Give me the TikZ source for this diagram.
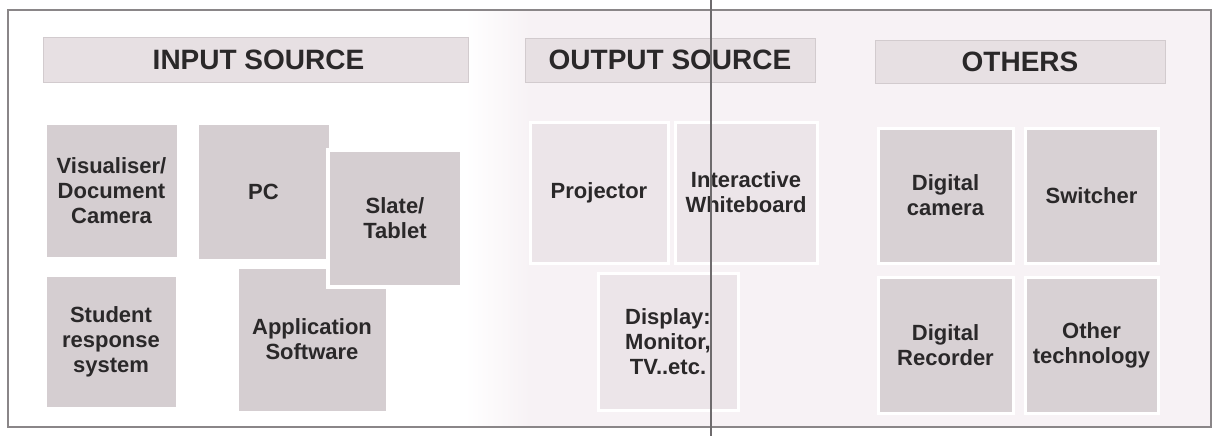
\documentclass[tikz,border=0pt]{standalone}
\usepackage{fontspec}
\setmainfont{Liberation Sans}
\definecolor{frameC}{HTML}{8A8688}
\definecolor{headC}{HTML}{E7E0E3}
\definecolor{headB}{HTML}{D2CBCE}
\definecolor{inC}{HTML}{D5CED1}
\definecolor{outC}{HTML}{ECE5E9}
\definecolor{othC}{HTML}{D8D1D4}
\definecolor{bgC}{HTML}{F7F2F5}
\definecolor{txtC}{HTML}{2A2829}
\tikzset{
  header/.style={fill=headC, draw=headB, line width=0.6pt, inner sep=0pt, outer sep=0pt,
    font=\fontsize{28}{30}\selectfont\bfseries, text=txtC},
  tile/.style={draw=white, line width=3pt, inner sep=0pt, outer sep=0pt, align=center,
    font=\fontsize{22}{25}\selectfont\bfseries, text=txtC},
  intile/.style={tile, fill=inC},
  outtile/.style={tile, fill=outC},
  othtile/.style={tile, fill=othC},
}
\begin{document}
\begin{tikzpicture}[x=1pt,y=-1pt]
\useasboundingbox (0,0) rectangle (1215,436);
\fill[white] (0,0) rectangle (1215,436);
% background tint
\shade[left color=white, right color=bgC] (465,11) rectangle (530,426);
\fill[bgC] (530,11) rectangle (1210,426);
\draw[frameC, line width=1.2pt] (8,10) rectangle (1211,427);

% headers
\node[header, minimum width=425pt, minimum height=45pt] (hin) at (255.5,59.5) {\hspace{6pt}INPUT SOURCE};
\node[header, minimum width=290pt, minimum height=44pt] (hout) at (670,60) {OUTPUT SOURCE};
\node[header, minimum width=290pt, minimum height=43pt] (hoth) at (1020,61.5) {OTHERS};

% input tiles
\node[intile, minimum width=133pt, minimum height=135pt] (vis) at (111.5,190.5) {Visualiser/\\Document\\Camera};
\node[intile, minimum width=150pt, minimum height=145pt] (app) at (312,339.5) {Application\\Software};
\node[intile, minimum width=133pt, minimum height=137pt] (pc) at (263.5,191.5) {PC};
\node[intile, line width=4pt, minimum width=134pt, minimum height=137pt] (slate) at (395,218.5) {Slate/\\Tablet};
\node[intile, minimum width=132pt, minimum height=133pt] (stud) at (111,341.5) {Student\\response\\system};

% output tiles
\node[outtile, minimum width=138pt, minimum height=141pt] (proj) at (599,192.5) {Projector};
\node[outtile, minimum width=142pt, minimum height=141pt] (iwb) at (746,192.5) {Interactive\\Whiteboard};
\node[outtile, minimum width=140pt, minimum height=137pt] (disp) at (668,341.5) {Display:\\Monitor,\\TV..etc.};

% others tiles
\node[othtile, minimum width=135pt, minimum height=135pt] (dcam) at (945.5,195.5) {Digital\\camera};
\node[othtile, minimum width=133pt, minimum height=135pt] (sw) at (1091.5,195.5) {Switcher};
\node[othtile, minimum width=135pt, minimum height=136pt] (drec) at (945.5,345) {Digital\\Recorder};
\node[othtile, minimum width=133pt, minimum height=136pt] (oth) at (1091.5,345) {Other\\technology};

% scan line
\draw[frameC!80!black, line width=1.3pt] (711,0) -- (711,436);
\end{tikzpicture}
\end{document}
